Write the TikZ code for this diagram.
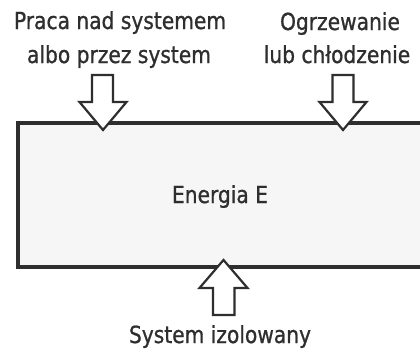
\documentclass[tikz,border=0pt]{standalone}
\usepackage{fontspec}
\setmainfont{DejaVu Sans}[FakeStretch=0.86,FakeBold=0.9]
\definecolor{ink}{HTML}{2E2E2E}
\definecolor{boxfill}{HTML}{F6F6F6}
\begin{document}
\begin{tikzpicture}[x=1pt,y=-1pt,
  lbl/.style={anchor=base,inner sep=0pt,text=ink,font=\fontsize{23.5}{28}\selectfont},
  sysbox/.style={draw=ink,line width=4pt,fill=boxfill},
  bigarrow/.style={draw=ink,line width=2.2pt,fill=white,line join=miter}]
\useasboundingbox (0,0) rectangle (420,354);
\begin{scope}
\clip (0,0) rectangle (420,354);
\draw[sysbox] (18,122.5) rectangle (470,266.5);
\end{scope}
% down arrows
\draw[bigarrow] (92,75) -- (113,75) -- (113,102) -- (126.5,102) -- (103,130) -- (79.5,102) -- (92,102) -- cycle;
\draw[bigarrow] (332.5,75) -- (353.5,75) -- (353.5,102) -- (366.5,102) -- (343,130) -- (319.5,102) -- (332.5,102) -- cycle;
% up arrow
\draw[bigarrow] (213,315) -- (234.5,315) -- (234.5,288) -- (247.5,288) -- (223.5,260) -- (199.5,288) -- (213,288) -- cycle;
\node[lbl] (w1) at (120,29) {Praca nad systemem};
\node[lbl] (w2) at (119,63) {albo przez system};
\node[lbl] (h1) at (340,30) {Ogrzewanie};
\node[lbl] (h2) at (337,63) {lub chłodzenie};
\node[lbl] (e) at (220,203) {Energia E};
\node[lbl] (s) at (220,343) {System izolowany};
\end{tikzpicture}
\end{document}
